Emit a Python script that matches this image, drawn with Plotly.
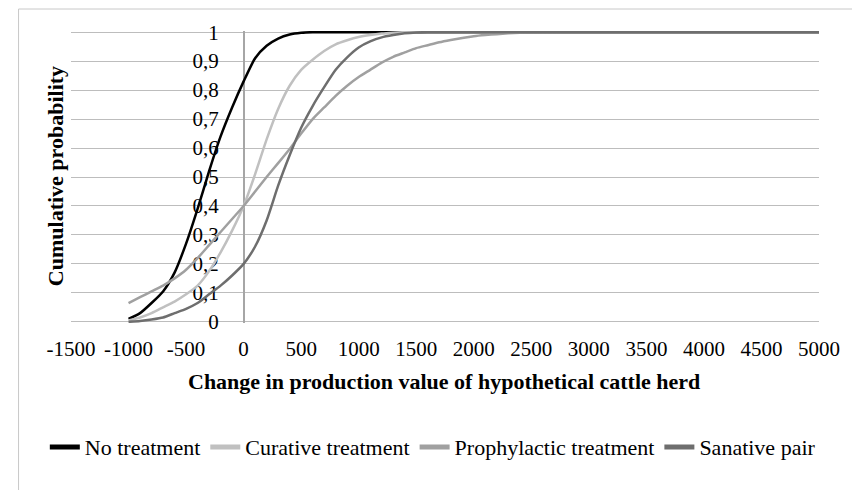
import plotly.graph_objects as go

# Shared x values (change in production value)
x_vals = [-1000, -900, -800, -700, -600, -500, -400, -300, -200, -100,
          0, 100, 200, 300, 400, 500, 600, 700, 800, 900,
          1000, 1100, 1200, 1300, 1400, 1500, 1600, 1700, 1800, 1900,
          2000, 2100, 2200, 2300, 2400, 2500, 3000, 4000, 5000]

no_treatment = [0.01, 0.03, 0.065, 0.105, 0.17, 0.27, 0.39, 0.52, 0.64, 0.74,
                0.83, 0.91, 0.953, 0.978, 0.992, 0.998, 1.0, 1.0, 1.0, 1.0,
                1.0, 1.0, 1.0, 1.0, 1.0, 1.0, 1.0, 1.0, 1.0, 1.0,
                1.0, 1.0, 1.0, 1.0, 1.0, 1.0, 1.0, 1.0, 1.0]

curative = [0.005, 0.015, 0.03, 0.05, 0.07, 0.095, 0.125, 0.175, 0.24, 0.315,
            0.40, 0.51, 0.63, 0.735, 0.815, 0.87, 0.905, 0.935, 0.958, 0.972,
            0.983, 0.99, 0.995, 0.998, 1.0, 1.0, 1.0, 1.0, 1.0, 1.0,
            1.0, 1.0, 1.0, 1.0, 1.0, 1.0, 1.0, 1.0, 1.0]

prophylactic = [0.065, 0.085, 0.105, 0.125, 0.15, 0.18, 0.22, 0.265, 0.31, 0.355,
                0.40, 0.45, 0.50, 0.548, 0.597, 0.65, 0.70, 0.74, 0.78, 0.815,
                0.845, 0.87, 0.895, 0.915, 0.93, 0.945, 0.955, 0.965, 0.973, 0.98,
                0.986, 0.99, 0.993, 0.996, 0.998, 0.999, 1.0, 1.0, 1.0]

sanative = [0.0, 0.003, 0.008, 0.015, 0.03, 0.045, 0.065, 0.095, 0.125, 0.16,
            0.20, 0.26, 0.35, 0.47, 0.575, 0.67, 0.745, 0.81, 0.87, 0.913,
            0.947, 0.968, 0.982, 0.99, 0.996, 0.999, 1.0, 1.0, 1.0, 1.0,
            1.0, 1.0, 1.0, 1.0, 1.0, 1.0, 1.0, 1.0, 1.0]

series_names = ["No treatment", "Curative treatment", "Prophylactic treatment", "Sanative pair"]
series_colors = ["#000000", "#c0c0c0", "#a0a0a0", "#6e6e6e"]

x_tickvals = [-1500, -1000, -500, 0, 500, 1000, 1500, 2000, 2500, 3000, 3500, 4000, 4500, 5000]
x_ticktext = ["-1500", "-1000", "-500", "0", "500", "1000", "1500", "2000", "2500",
              "3000", "3500", "4000", "4500", "5000"]
y_tickvals = [0, 0.1, 0.2, 0.3, 0.4, 0.5, 0.6, 0.7, 0.8, 0.9, 1]
y_ticktext = ["0", "0,1", "0,2", "0,3", "0,4", "0,5", "0,6", "0,7", "0,8", "0,9", "1"]

FONT = "Liberation Serif, Times New Roman, serif"

fig = go.Figure()
for name, ys, col in zip(series_names, [no_treatment, curative, prophylactic, sanative], series_colors):
    fig.add_trace(go.Scatter(x=x_vals, y=ys, mode="lines", name=name,
                             line=dict(color=col, width=2.5, shape="spline", smoothing=0.6)))

x_min, x_max = -1500, 5000
fig.update_layout(
    width=852, height=490,
    margin=dict(l=71, r=25, t=31, b=167),
    paper_bgcolor="white", plot_bgcolor="white",
    font=dict(family=FONT, size=21, color="black"),
    showlegend=True,
    legend=dict(orientation="h", x=-0.035, xanchor="left", y=-0.425, yanchor="middle",
                font=dict(family=FONT, size=22, color="black"),
                bgcolor="rgba(0,0,0,0)", tracegroupgap=0, itemsizing="constant"),
    xaxis=dict(range=[x_min, x_max], tickvals=x_tickvals, ticktext=x_ticktext,
               showgrid=False, zeroline=False, showline=False, ticks="",
               ticklabelstandoff=11,
               tickfont=dict(family=FONT, size=21, color="black")),
    yaxis=dict(range=[-0.004, 1.004], tickvals=y_tickvals, ticktext=y_ticktext,
               showgrid=True, gridcolor="#bdbdbd", gridwidth=1, zeroline=False,
               showline=True, linecolor="#a6a6a6", linewidth=1.5,
               anchor="free", position=(0 - x_min) / (x_max - x_min),
               ticks="", ticklabelstandoff=20, layer="below traces",
               tickfont=dict(family=FONT, size=21, color="black")),
)

# y-axis title
fig.add_annotation(text="<b>Cumulative probability</b>", xref="paper", yref="paper",
                   x=(55 - 71) / 756, y=(323 - 176) / 292, textangle=-90, showarrow=False,
                   font=dict(family=FONT, size=22, color="black"),
                   xanchor="center", yanchor="middle")
# x-axis title
fig.add_annotation(text="<b>Change in production value of hypothetical cattle herd</b>",
                   xref="paper", yref="paper", x=(448 - 71) / 756, y=(323 - 381) / 292,
                   showarrow=False, font=dict(family=FONT, size=22, color="black"),
                   xanchor="center", yanchor="middle")

# chart frame (cropped at right and bottom)
fig.add_shape(type="rect", xref="paper", yref="paper",
              x0=(18 - 71) / 756, x1=1.2, y0=-0.8, y1=(323 - 9) / 292,
              line=dict(color="#c8c8c8", width=1), fillcolor="rgba(0,0,0,0)", layer="below")

fig.write_html("out.html", config={"displayModeBar": False},
               post_script="document.body.style.margin='0';")
